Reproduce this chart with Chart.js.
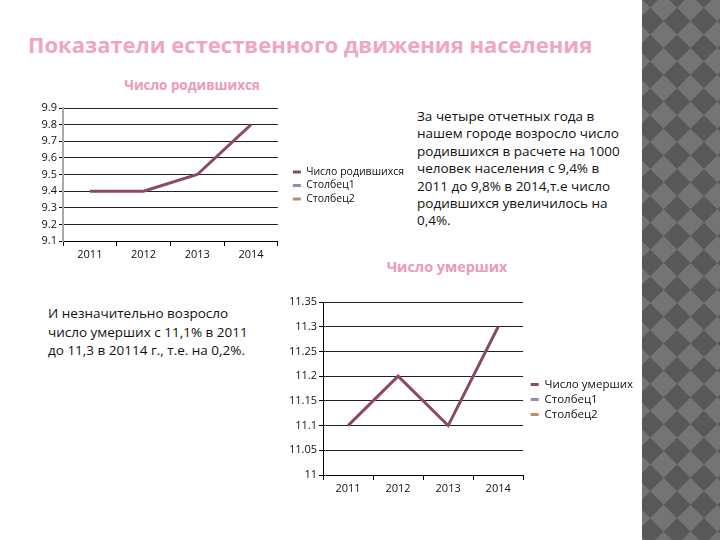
<!DOCTYPE html>
<html>
<head>
<meta charset="utf-8">
<script src="https://cdn.jsdelivr.net/npm/chart.js@4.4.1/dist/chart.umd.min.js"></script>
<style>
body{margin:0;width:720px;height:540px;background:#fff;position:relative;overflow:hidden;font-family:"Open Sans",sans-serif;color:#111}
.abs{position:absolute}
#title{left:28px;top:29px;font-size:22px;font-weight:700;color:#f2a5c0;white-space:nowrap}
.sub{font-weight:700;color:#eb9ab8;white-space:nowrap;transform:translateX(-50%)}
.txt{font-size:13.5px;line-height:17.4px;white-space:nowrap}
#strip{left:642px;top:0;width:78px;height:540px;overflow:hidden;background:#666}
#strip div{position:absolute;left:-320px;top:-330px;width:720px;height:1200px;transform:rotate(45deg);
  background:conic-gradient(#585858 25%,#747474 0 50%,#585858 0 75%,#747474 0);background-size:38px 38px}
</style>
</head>
<body>
<div id="title" class="abs">Показатели естественного движения населения</div>
<div class="abs sub" style="left:192px;top:76px;font-size:13.4px">Число родившихся</div>
<div class="abs sub" style="left:447px;top:257px;font-size:14.4px">Число умерших</div>

<div class="abs txt" style="left:417px;top:108px">За четыре отчетных года в<br>нашем городе возросло число<br>родившихся в расчете на 1000<br>человек населения с 9,4% в<br>2011 до 9,8% в 2014,т.е число<br>родившихся увеличилось на<br>0,4%.</div>
<div class="abs txt" style="left:48px;top:304px;line-height:18.5px">И незначительно возросло<br>число умерших с 11,1% в 2011<br>до 11,3 в 20114 г., т.е. на 0,2%.</div>

<canvas id="births" class="abs" style="left:30px;top:98px" width="384" height="165"></canvas>
<canvas id="deaths" class="abs" style="left:284px;top:292px" width="365" height="205"></canvas>

<div id="strip" class="abs"><div></div></div>

<script>
// DATA
const years = ['2011', '2012', '2013', '2014'];

const birthNames = ['Число родившихся', 'Столбец1', 'Столбец2'];
const birthValues = [9.4, 9.4, 9.5, 9.8];

const deathNames = ['Число умерших', 'Столбец1', 'Столбец2'];
const deathValues = [11.1, 11.2, 11.1, 11.3];

const seriesColors = ['#8c4a60', '#9a86b4', '#c48a66'];

Chart.defaults.font.family = '"Open Sans", sans-serif';
Chart.defaults.color = '#111';

function makeChart(id, names, values, yMin, yMax, step, fmt, opt){

  const datasets = names.map((name, i) => ({
    label: name,
    data: i === 0 ? values : [],
    borderColor: seriesColors[i],
    backgroundColor: seriesColors[i],
    borderWidth: 3,
    pointRadius: 0,
    tension: 0
  }));

  return new Chart(document.getElementById(id), {
    type: 'line',
    data: { labels: years, datasets: datasets },
    options: {
      responsive: false,
      animation: false,
      devicePixelRatio: 1,
      layout: { padding: { top: 10, right: opt.padRight, left: 0, bottom: 0 } },
      plugins: {
        tooltip: { enabled: false },
        legend: {
          position: 'right',
          maxWidth: 200,
          labels: {
            usePointStyle: true,
            pointStyle: 'line',
            pointStyleWidth: 8,
            font: { size: opt.legendFont },
            color: '#111',
            padding: opt.legendPad
          }
        }
      },
      scales: {
        x: {
          offset: true,
          afterFit: s => { s.height = 22; },
          grid: { offset: true, drawOnChartArea: false, tickLength: 5, color: '#000' },
          border: { color: '#000', width: 1 },
          ticks: { font: { size: 11 }, color: '#111', padding: 2 }
        },
        y: {
          min: yMin,
          max: yMax,
          afterFit: s => { s.width = opt.yWidth; },
          ticks: { stepSize: step, callback: fmt, font: { size: 11 }, color: '#111', padding: 2 },
          grid: { color: '#222', tickLength: 4, tickColor: '#000' },
          border: { color: opt.yBorder, width: opt.yBorderWidth }
        },
        gap: {
          position: 'right',
          afterFit: s => { s.width = opt.gap; },
          grid: { display: false },
          ticks: { display: false },
          border: { display: false }
        }
      }
    }
  });
}

makeChart('births', birthNames, birthValues, 9.1, 9.9, 0.1,
  v => v.toFixed(1),
  { padRight: 0, legendPad: 3, legendFont: 10.5, yWidth: 33, yBorder: '#a8a8a8', yBorderWidth: 2, gap: 12 });

makeChart('deaths', deathNames, deathValues, 11, 11.35, 0.05,
  v => String(+v.toFixed(2)),
  { padRight: 6, legendPad: 3.5, legendFont: 11.5, yWidth: 39, yBorder: '#000', yBorderWidth: 1, gap: 4 });
</script>
</body>
</html>
